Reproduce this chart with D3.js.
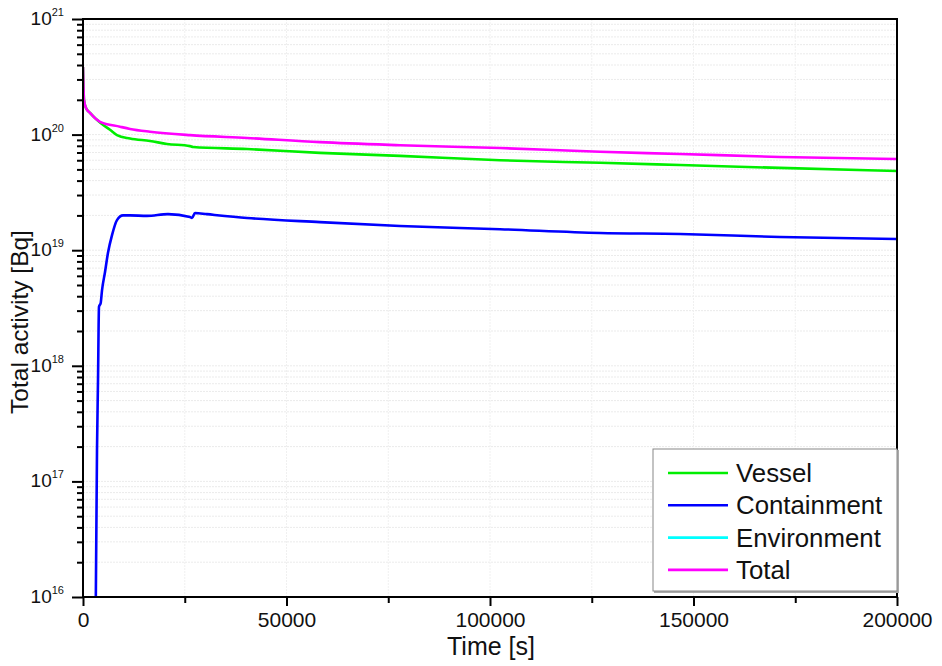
<!DOCTYPE html>
<html>
<head>
<meta charset="utf-8">
<script src="https://cdn.jsdelivr.net/npm/d3@7/dist/d3.min.js"></script>
<style>
  html, body { margin: 0; padding: 0; background: #fff; }
  svg { display: block; font-family: Arial, "Liberation Sans", sans-serif; }
</style>
</head>
<body>
<svg id="chart" width="942" height="666"></svg>
<script>
// Time points [s] and total activity [Bq] for each inventory location
const totalTime = [0, 250, 740, 1720, 4180, 9090, 11550, 16460, 26290, 40300, 58230, 77890, 102460, 127030, 146690, 171260, 200000];
const totalActivity = [3.85e20, 2.0e20, 1.7e20, 1.54e20, 1.29e20, 1.17e20, 1.12e20, 1.06e20, 9.9e19, 9.35e19, 8.6e19, 8.1e19, 7.65e19, 7.1e19, 6.8e19, 6.4e19, 6.15e19];

const vesselTime = [0, 250, 740, 1720, 4180, 6630, 8350, 11550, 16460, 20640, 26290, 27030, 40300, 58230, 77890, 102460, 127030, 146690, 171260, 200000];
const vesselActivity = [3.85e20, 2.0e20, 1.7e20, 1.54e20, 1.27e20, 1.10e20, 9.9e19, 9.25e19, 8.8e19, 8.3e19, 7.95e19, 7.8e19, 7.5e19, 6.95e19, 6.55e19, 6.0e19, 5.7e19, 5.45e19, 5.15e19, 4.85e19];

const containmentTime = [3150, 3440, 3690, 3930, 4350, 4670, 5400, 6140, 7130, 8350, 9830, 11550, 15720, 20880, 26290, 26780, 27520, 30470, 40300, 58230, 77890, 102460, 127030, 146690, 171260, 200000];
const containmentActivity = [1.0e16, 1.86e17, 7.6e17, 3.24e18, 3.5e18, 4.5e18, 6.45e18, 9.5e18, 1.35e19, 1.82e19, 2.0e19, 2.0e19, 1.98e19, 2.05e19, 1.94e19, 1.9e19, 2.1e19, 2.05e19, 1.9e19, 1.75e19, 1.62e19, 1.52e19, 1.41e19, 1.38e19, 1.30e19, 1.25e19];

// Environment release stays below the lower axis limit over the whole run
const environmentTime = [];
const environmentActivity = [];

const seriesNames = ["Vessel", "Containment", "Environment", "Total"];
const seriesColors = ["#00ee00", "#0000ff", "#00ffff", "#ff00ff"];

const xMajorTicks = [0, 50000, 100000, 150000, 200000];
const xMinorTicks = [25000, 75000, 125000, 175000];
const yDecades = [16, 17, 18, 19, 20, 21];

const xTitle = "Time [s]";
const yTitle = "Total activity [Bq]";

// ---- layout ----
const svg = d3.select("#chart");
const plot = { left: 83, right: 897, top: 19, bottom: 597 };

const x = d3.scaleLinear().domain([0, 200000]).range([plot.left, plot.right]);
const y = d3.scaleLog().domain([1e16, 1e21]).range([plot.bottom, plot.top]);

const yMajor = yDecades.map(d => Math.pow(10, d));
const yMinor = [];
yDecades.slice(0, -1).forEach(d => {
  for (let m = 2; m <= 9; m++) yMinor.push(m * Math.pow(10, d));
});

// ---- grid ----
const grid = svg.append("g").attr("class", "grid");
grid.selectAll("line.h")
  .data(yMajor.concat(yMinor).filter(v => v > 1e16 && v < 1e21))
  .join("line")
  .attr("x1", plot.left).attr("x2", plot.right)
  .attr("y1", d => y(d)).attr("y2", d => y(d))
  .attr("stroke", "#ebebeb").attr("stroke-width", 1)
  .attr("stroke-dasharray", "2,1");
grid.selectAll("line.v")
  .data(xMajorTicks.concat(xMinorTicks).filter(v => v > 0 && v < 200000))
  .join("line")
  .attr("y1", plot.top).attr("y2", plot.bottom)
  .attr("x1", d => x(d)).attr("x2", d => x(d))
  .attr("stroke", "#f0f0f0").attr("stroke-width", 1)
  .attr("stroke-dasharray", "2,1");

// ---- data lines ----
svg.append("clipPath").attr("id", "plotClip")
  .append("rect")
  .attr("x", plot.left).attr("y", plot.top)
  .attr("width", plot.right - plot.left).attr("height", plot.bottom - plot.top);

const series = [
  { name: "Vessel", t: vesselTime, v: vesselActivity },
  { name: "Containment", t: containmentTime, v: containmentActivity },
  { name: "Environment", t: environmentTime, v: environmentActivity },
  { name: "Total", t: totalTime, v: totalActivity }
];

const line = d3.line()
  .x(d => x(d[0]))
  .y(d => y(d[1]))
  .curve(d3.curveMonotoneX);

const linesG = svg.append("g").attr("clip-path", "url(#plotClip)");
series.forEach(s => {
  const pts = s.t.map((t, k) => [t, s.v[k]]);
  if (!pts.length) return;
  linesG.append("path")
    .datum(pts)
    .attr("d", line)
    .attr("fill", "none")
    .attr("stroke", seriesColors[seriesNames.indexOf(s.name)])
    .attr("stroke-width", 2.6)
    .attr("stroke-linejoin", "round");
});

// ---- axes ----
const xAxis = d3.axisBottom(x)
  .tickValues(xMajorTicks.concat(xMinorTicks))
  .tickSizeOuter(0)
  .tickFormat(d => xMajorTicks.includes(d) ? String(d) : "");
const gx = svg.append("g")
  .attr("transform", `translate(0,${plot.bottom})`)
  .call(xAxis);
gx.select(".domain").remove();
gx.selectAll(".tick line")
  .attr("stroke", "#000").attr("stroke-width", 2)
  .attr("y2", d => xMajorTicks.includes(d) ? 9 : 6);
gx.selectAll(".tick text")
  .attr("y", 15)
  .attr("font-size", 21)
  .attr("font-family", "Arial, 'Liberation Sans', sans-serif")
  .attr("fill", "#111");

const yAxis = d3.axisLeft(y)
  .tickValues(yMajor.concat(yMinor))
  .tickSizeOuter(0)
  .tickFormat("");
const gy = svg.append("g")
  .attr("transform", `translate(${plot.left},0)`)
  .call(yAxis);
gy.select(".domain").remove();
gy.selectAll(".tick line")
  .attr("stroke", "#000").attr("stroke-width", 2)
  .attr("x2", d => yMajor.includes(d) ? -11 : -6);

// power-of-ten labels with superscript exponents
const yLab = svg.append("g").attr("fill", "#111");
yDecades.forEach(p => {
  const t = yLab.append("text")
    .attr("x", 64)
    .attr("y", y(Math.pow(10, p)) + 6)
    .attr("text-anchor", "end")
    .attr("font-size", 19);
  t.append("tspan").text("10");
  t.append("tspan")
    .attr("font-size", 11)
    .attr("dy", -9)
    .text(p);
});

// frame
svg.append("rect")
  .attr("x", plot.left).attr("y", plot.top)
  .attr("width", plot.right - plot.left).attr("height", plot.bottom - plot.top)
  .attr("fill", "none").attr("stroke", "#000").attr("stroke-width", 2);

// ---- axis titles ----
svg.append("text")
  .attr("x", 491).attr("y", 655)
  .attr("text-anchor", "middle")
  .attr("font-size", 25)
  .attr("fill", "#111")
  .text(xTitle);

svg.append("text")
  .attr("transform", "translate(28,322) rotate(-90)")
  .attr("text-anchor", "middle")
  .attr("font-size", 24.5)
  .attr("fill", "#111")
  .text(yTitle);

// ---- legend ----
const lg = svg.append("g").attr("transform", "translate(653,449)");
lg.append("rect")
  .attr("x", 1).attr("y", 1)
  .attr("width", 245).attr("height", 143)
  .attr("fill", "#aaa");
lg.append("rect")
  .attr("width", 244).attr("height", 142)
  .attr("fill", "#fff").attr("stroke", "#888").attr("stroke-width", 1);
seriesNames.forEach((n, i) => {
  const yy = 24 + i * 32.3;
  lg.append("line")
    .attr("x1", 15).attr("x2", 75)
    .attr("y1", yy).attr("y2", yy)
    .attr("stroke", seriesColors[i]).attr("stroke-width", 2.6);
  lg.append("text")
    .attr("x", 83).attr("y", yy + 9)
    .attr("font-size", 25.8)
    .attr("fill", "#111")
    .text(n);
});
</script>
</body>
</html>
